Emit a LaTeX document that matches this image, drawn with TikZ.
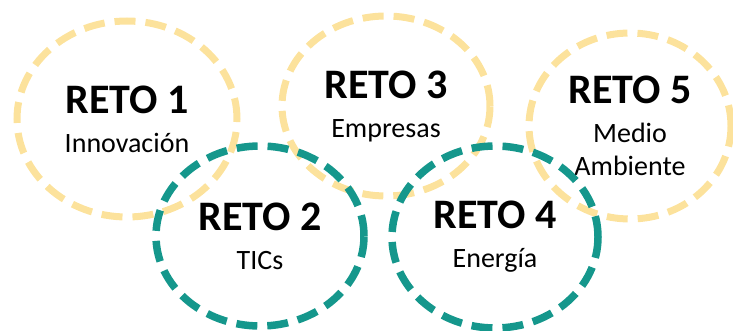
\documentclass[tikz,border=0pt]{standalone}
\usepackage{fontspec}
\setmainfont{Carlito}
\usetikzlibrary{shapes.geometric}
\definecolor{retoyellow}{HTML}{FCE29C}
\definecolor{retoteal}{HTML}{15978C}
\tikzset{
  reto/.style={ellipse, line width=7pt, dash pattern=on 21pt off 10pt,
    inner sep=0pt, align=center, font=\fontsize{28}{33}\selectfont},
  yreto/.style={reto, draw=retoyellow},
  treto/.style={reto, draw=retoteal, line width=7.5pt},
}
\newcommand{\retotitle}[1]{{\fontsize{42}{42}\selectfont\bfseries #1}}

\begin{document}
\begin{tikzpicture}[x=1pt,y=-1pt]
        % page frame
        \useasboundingbox (0,0) rectangle (733,331);
        % yellow challenges
        \node[yreto, minimum width=220pt, minimum height=196pt] (reto1) at (127,119) {\retotitle{RETO 1}\\[6pt]Innovación};
        \node[yreto, minimum width=208pt, minimum height=180pt] (reto3) at (386,106) {\retotitle{RETO 3}\\[6pt]Empresas};
        \node[yreto, minimum width=202pt, minimum height=186pt] (reto5) at (630,126) {\retotitle{RETO 5}\\[6pt]Medio\\Ambiente};
        % teal challenges
        \node[treto, minimum width=208pt, minimum height=180pt] (reto2) at (260,236) {\retotitle{RETO 2}\\[6pt]TICs};
        \node[treto, minimum width=206pt, minimum height=182pt] (reto4) at (495,237) {\retotitle{RETO 4}\\[6pt]Energía};
    \end{tikzpicture}
\end{document}
